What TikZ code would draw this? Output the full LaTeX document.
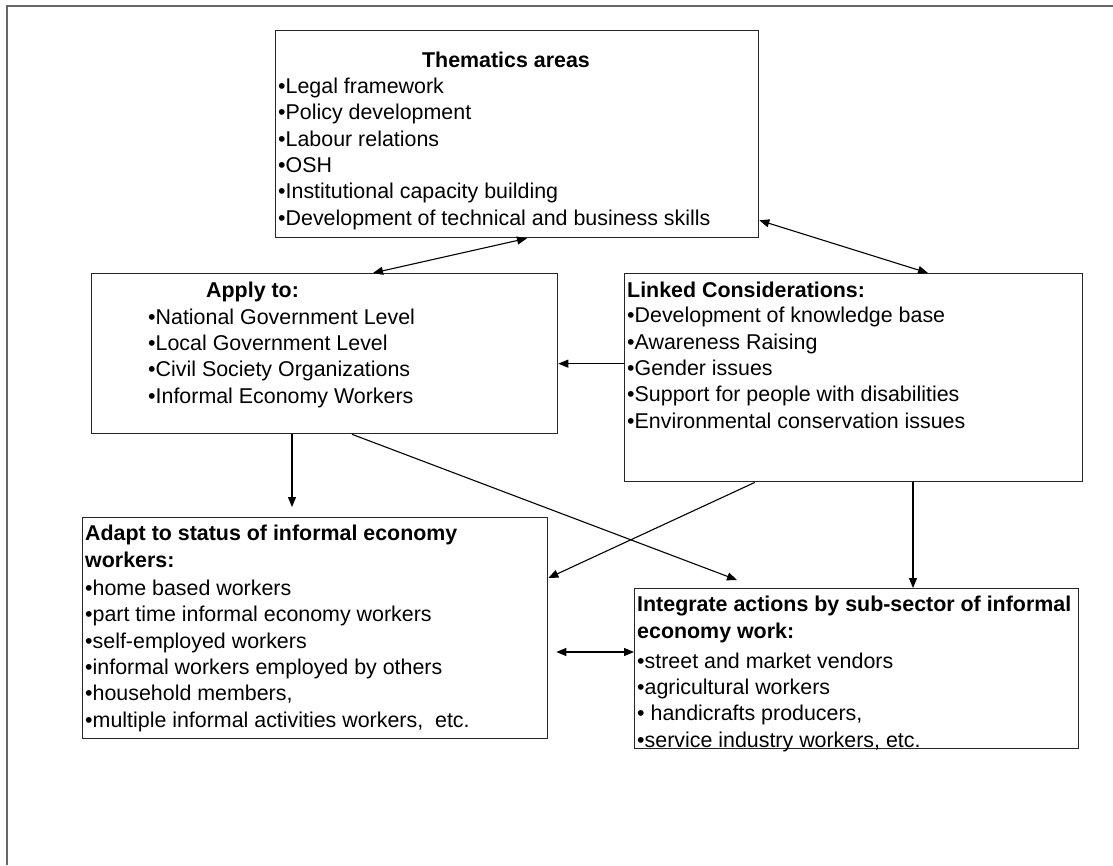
\documentclass[tikz,border=0pt]{standalone}
\usepackage{fontspec}
\setmainfont{Liberation Sans}
\usetikzlibrary{arrows.meta}
\tikzset{
  box/.style={draw=black!85, line width=1.3pt, inner sep=0pt, anchor=north west},
  lst/.style={inner sep=0pt, anchor=base west, align=left, font=\fontsize{21.4}{26.3}\selectfont},
  head/.style={inner sep=0pt, align=left, font=\fontsize{21.4}{26.3}\selectfont\bfseries},
  arr/.style={line width=1.1pt, -{Triangle[length=10pt,width=8pt]}},
  dbl/.style={line width=1.1pt, {Triangle[length=10pt,width=8pt]}-{Triangle[length=10pt,width=8pt]}},
}
\begin{document}
\begin{tikzpicture}[x=1pt, y=-1pt]
      \useasboundingbox (0,0) rectangle (1113,865);
      %%frame
      \draw[line width=2pt, black!60] (7,865) to (7,6) to (1113,6);

      %%thematics
      \node[box, minimum width=483pt, minimum height=207pt] (them) at(275,30){};
      \node[head, anchor=base] (themhead) at(506,67){Thematics areas};
      \node[lst] (themlist) at(278,225){\textbullet Legal framework\\
        \textbullet Policy development\\
        \textbullet Labour relations\\
        \textbullet OSH\\
        \textbullet Institutional capacity building\\
        \textbullet Development of technical and business skills};

      %%apply
      \node[box, minimum width=466pt, minimum height=160pt] (apply) at(91,273){};
      \node[head, anchor=base west] (applyhead) at(206,297){Apply to:};
      \node[lst] (applylist) at(148,403){\textbullet National Government Level\\
        \textbullet Local Government Level\\
        \textbullet Civil Society Organizations\\
        \textbullet Informal Economy Workers};

      %%linked
      \node[box, minimum width=458pt, minimum height=208pt] (link) at(624,273){};
      \node[head, anchor=base west] (linkhead) at(627,297){Linked Considerations:};
      \node[lst] (linklist) at(627,428){\textbullet Development of knowledge base\\
        \textbullet Awareness Raising\\
        \textbullet Gender issues\\
        \textbullet Support for people with disabilities\\
        \textbullet Environmental conservation issues};

      %%adapt
      \node[box, minimum width=465pt, minimum height=221pt] (adapt) at(82,517){};
      \node[head, anchor=base west] (adapthead) at(85,567){Adapt to status of informal economy\\workers:};
      \node[lst] (adaptlist) at(85,727){\textbullet home based workers\\
        \textbullet part time informal economy workers\\
        \textbullet self-employed workers\\
        \textbullet informal workers employed by others\\
        \textbullet household members,\\
        \textbullet multiple informal activities workers, \ etc.};

      %%integrate
      \node[box, minimum width=444pt, minimum height=160pt] (integ) at(634,588){};
      \node[head, anchor=base west] (integhead) at(637,638){Integrate actions by sub-sector of informal\\economy work:};
      \node[lst] (integlist) at(637,747){\textbullet street and market vendors\\
        \textbullet agricultural workers\\
        \textbullet{} handicrafts producers,\\
        \textbullet service industry workers, etc.};

      %%arrows
      \draw[dbl] ([xshift=252pt]them.south west) to ([xshift=282pt]apply.north west);
      \draw[dbl] ([yshift=18pt]them.south east) to ([xshift=304pt]link.north west);
      \draw[arr] ([yshift=14pt]link.west) to ([yshift=-10pt]apply.east);
      \draw[arr] ([xshift=201pt]apply.south west) to ([xshift=210pt, yshift=10pt]adapt.north west);
      \draw[arr] ([xshift=261pt]apply.south west) to ([xshift=103pt, yshift=8pt]integ.north west);
      \draw[arr] ([xshift=131pt]link.south west) to ([yshift=-61pt]adapt.north east);
      \draw[arr] ([xshift=289pt]link.south west) to ([xshift=279pt]integ.north west);
      \draw[dbl] ([xshift=8pt, yshift=-135pt]adapt.north east) to ([yshift=-64pt]integ.north west);
\end{tikzpicture}
\end{document}
